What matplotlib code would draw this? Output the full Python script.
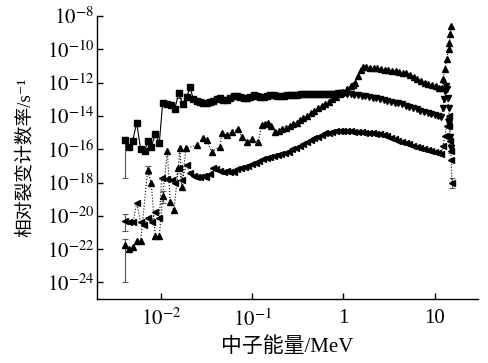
import numpy as np
import matplotlib
matplotlib.use("Agg")
import matplotlib.pyplot as plt

# values are stored as log10 exponents
# energy in MeV, rate in s^-1

# square series (solid line), low energy to ~1 MeV
sq_logE = [-2.39, -2.344, -2.306, -2.263, -2.219, -2.175, -2.139, -2.103, -2.059, -2.015,
           -1.978, -1.934, -1.891, -1.847, -1.803, -1.759, -1.716, -1.679, -1.643, -1.606,
           -1.57, -1.533, -1.497, -1.461, -1.425, -1.387, -1.351, -1.315, -1.277, -1.24,
           -1.203, -1.167, -1.13, -1.093, -1.056, -1.02, -0.983, -0.947, -0.91, -0.873,
           -0.836, -0.799, -0.762, -0.726, -0.688, -0.652, -0.614, -0.578, -0.541, -0.504,
           -0.467, -0.431, -0.394, -0.357, -0.32, -0.283, -0.246, -0.21, -0.173, -0.136,
           -0.099, -0.062, -0.025]
sq_logR = [-15.45, -15.85, -15.49, -14.41, -16.0, -16.1, -15.49, -15.85, -15.09, -15.61,
           -13.21, -13.29, -13.36, -13.6, -12.64, -13.29, -12.88, -12.28, -13.0, -13.1,
           -13.15, -13.2, -13.2, -13.15, -13.1, -13.0, -12.95, -13.05, -13.05, -12.95,
           -12.8, -12.8, -12.85, -12.9, -12.9, -12.85, -12.75, -12.8, -12.85, -12.85,
           -12.8, -12.75, -12.75, -12.78, -12.8, -12.8, -12.75, -12.75, -12.72, -12.72,
           -12.7, -12.7, -12.7, -12.68, -12.68, -12.7, -12.7, -12.68, -12.67, -12.68,
           -12.66, -12.65, -12.65]

# down-triangle series, 1 MeV to 15 MeV
dn_logE = [0.0, 0.04, 0.08, 0.12, 0.16, 0.2, 0.24, 0.28, 0.32, 0.36,
           0.4, 0.44, 0.48, 0.52, 0.56, 0.6, 0.64, 0.68, 0.72, 0.76,
           0.8, 0.84, 0.88, 0.92, 0.96, 1.0, 1.04, 1.07, 1.09, 1.1,
           1.11, 1.12, 1.13, 1.14, 1.15, 1.16, 1.17, 1.18]
dn_logR = [-12.65, -12.68, -12.7, -12.72, -12.75, -12.78, -12.82, -12.85, -12.9, -12.95,
           -13.0, -13.05, -13.1, -13.15, -13.2, -13.25, -13.3, -13.38, -13.45, -13.52,
           -13.6, -13.68, -13.75, -13.82, -13.9, -13.96, -14.0, -14.05, -13.5, -13.0,
           -12.5, -12.2, -12.4, -12.9, -13.5, -14.4, -15.25, -15.95]

# up-triangle series (dotted)
up_logE = [-2.39, -2.344, -2.306, -2.263, -2.219, -2.142, -2.103, -2.059, -2.015, -1.978,
           -1.927, -1.898, -1.855, -1.807, -1.789, -1.77, -1.723, -1.606, -1.534, -1.497,
           -1.442, -1.351, -1.333, -1.278, -1.223, -1.151, -1.114, -1.059, -1.004, -0.932,
           -0.895, -0.86, -0.823, -0.79, -0.75, -0.71, -0.67, -0.63, -0.59, -0.55,
           -0.51, -0.47, -0.44, -0.4, -0.36, -0.32, -0.28, -0.24, -0.2, -0.16,
           -0.12, -0.08, -0.04, 0.0, 0.04, 0.08, 0.107, 0.13, 0.16, 0.19,
           0.217, 0.25, 0.29, 0.33, 0.37, 0.41, 0.45, 0.49, 0.53, 0.57,
           0.61, 0.65, 0.69, 0.73, 0.77, 0.81, 0.85, 0.89, 0.93, 0.97,
           1.01, 1.05, 1.074, 1.09, 1.11, 1.13, 1.15, 1.16, 1.17, 1.18]
up_logR = [-21.75, -22.0, -21.9, -21.5, -21.5, -17.25, -18.05, -21.2, -21.2, -18.8,
           -16.1, -19.15, -19.65, -17.15, -15.9, -18.25, -15.95, -15.75, -15.35, -15.45,
           -16.15, -15.85, -15.05, -15.15, -14.95, -14.8, -15.25, -15.55, -15.4, -15.55,
           -14.55, -14.5, -14.45, -14.6, -14.95, -14.9, -14.8, -14.7, -14.6, -14.5,
           -14.4, -14.25, -14.15, -14.0, -13.85, -13.7, -13.55, -13.4, -13.3, -13.15,
           -13.0, -12.85, -12.7, -12.55, -12.4, -12.2, -12.14, -12.0, -11.6, -11.25,
           -11.08, -11.05, -11.1, -11.12, -11.15, -11.2, -11.25, -11.22, -11.3, -11.3,
           -11.35, -11.4, -11.45, -11.55, -11.65, -11.8, -11.9, -12.0, -12.1, -12.15,
           -12.2, -12.3, -12.34, -11.8, -11.2, -10.6, -10.0, -9.6, -9.1, -8.6]

# left-triangle series (dotted)
lt_logE = [-2.39, -2.344, -2.3, -2.263, -2.22, -2.18, -2.139, -2.1, -2.059, -2.015,
           -1.99, -1.934, -1.88, -1.847, -1.803, -1.77, -1.716, -1.679, -1.64, -1.6,
           -1.57, -1.53, -1.5, -1.46, -1.425, -1.39, -1.35, -1.31, -1.27, -1.24,
           -1.2, -1.16, -1.12, -1.08, -1.04, -1.0, -0.96, -0.92, -0.88, -0.84,
           -0.8, -0.76, -0.72, -0.68, -0.64, -0.6, -0.56, -0.52, -0.48, -0.44,
           -0.4, -0.36, -0.32, -0.28, -0.24, -0.2, -0.16, -0.12, -0.08, -0.04,
           0.0, 0.04, 0.08, 0.12, 0.16, 0.2, 0.24, 0.28, 0.32, 0.36,
           0.4, 0.44, 0.48, 0.52, 0.56, 0.6, 0.64, 0.68, 0.72, 0.76,
           0.8, 0.84, 0.88, 0.92, 0.96, 1.0, 1.04, 1.07, 1.09, 1.11,
           1.13, 1.14, 1.15, 1.16, 1.17, 1.175, 1.18, 1.185]
lt_logR = [-20.3, -20.4, -20.35, -19.2, -20.4, -20.55, -20.15, -20.35, -19.75, -20.15,
           -17.75, -17.8, -17.85, -18.05, -17.15, -17.85, -16.95, -17.45, -17.6, -17.65,
           -17.65, -17.6, -17.65, -17.5, -17.15, -17.2, -17.3, -17.35, -17.3, -17.35,
           -17.35, -17.2, -17.15, -17.05, -17.0, -16.9, -16.8, -16.7, -16.6, -16.55,
           -16.45, -16.4, -16.35, -16.3, -16.25, -16.15, -16.0, -15.9, -15.8, -15.7,
           -15.55, -15.45, -15.35, -15.25, -15.15, -15.05, -15.0, -14.95, -14.9, -14.88,
           -14.9, -14.9, -14.92, -14.95, -14.95, -14.98, -15.0, -15.0, -15.05, -15.08,
           -15.1, -15.15, -15.2, -15.3, -15.4, -15.5, -15.55, -15.6, -15.7, -15.8,
           -15.85, -15.95, -16.0, -16.05, -16.1, -16.15, -16.2, -16.3, -15.8, -15.2,
           -14.6, -14.2, -14.0, -14.6, -15.5, -16.1, -16.65, -18.0]

# a few error bars: log10 E, lower and upper log10 rate
err_logE = [-2.39, -2.39, -2.39, -2.263, -1.803, -1.679, -2.142, -1.978, 1.18, 1.185]
err_lo = [-17.75, -24.0, -20.9, -14.6, -12.9, -12.45, -17.5, -19.2, -16.2, -18.3]
err_hi = [-15.25, -21.4, -19.9, -14.25, -12.45, -12.15, -17.0, -18.5, -15.7, -17.7]

plt.rcParams["font.family"] = ["Liberation Serif", "Noto Sans CJK SC", "DejaVu Sans"]
plt.rcParams["mathtext.fontset"] = "stix"

fig = plt.figure(figsize=(4.89, 3.63), dpi=100)
ax = fig.add_axes([0.198, 0.176, 0.779, 0.780])


def p10(a):
    return np.power(10.0, np.asarray(a))


x_e = p10(err_logE)
lo = p10(err_lo)
hi = p10(err_hi)
ax.vlines(x_e, lo, hi, color="0.35", lw=0.8, zorder=1)
ax.scatter(x_e, lo, marker="_", s=18, color="0.35", lw=0.8, zorder=1)
ax.scatter(x_e, hi, marker="_", s=18, color="0.35", lw=0.8, zorder=1)

ax.plot(p10(sq_logE), p10(sq_logR), "-", marker="s", ms=3.8, color="black", lw=0.8)
ax.plot(p10(dn_logE), p10(dn_logR), ":", marker="v", ms=4.3, color="black", lw=0.8)
ax.plot(p10(up_logE), p10(up_logR), ":", marker="^", ms=4.3, color="black", lw=0.8)
ax.plot(p10(lt_logE), p10(lt_logR), ":", marker="<", ms=4.3, color="black", lw=0.8)

ax.set_xscale("log")
ax.set_yscale("log")
ax.set_xlim(0.002, 29.5)
ax.set_ylim(1e-25, 1e-8)

ax.set_xticks([1e-2, 1e-1, 1, 10])
ax.set_xticklabels([r"$10^{-2}$", r"$10^{-1}$", "1", "10"])
yt = [-8, -10, -12, -14, -16, -18, -20, -22, -24]
ax.set_yticks([10.0 ** k for k in yt])
ax.set_yticklabels([r"$10^{%d}$" % k for k in yt])
ax.minorticks_off()
ax.tick_params(direction="in", length=4, width=1, labelsize=15)
ax.tick_params(axis="x", pad=7)
ax.tick_params(axis="y", pad=2)

for s in ["top", "right"]:
    ax.spines[s].set_visible(False)
for s in ["left", "bottom"]:
    ax.spines[s].set_linewidth(1.0)

ax.set_xlabel("中子能量/MeV", fontsize=15, labelpad=5)
ax.set_ylabel("相对裂变计数率/s\u207b\u00b9", fontsize=13.5, labelpad=9)

fig.savefig("out.png", dpi=100)
